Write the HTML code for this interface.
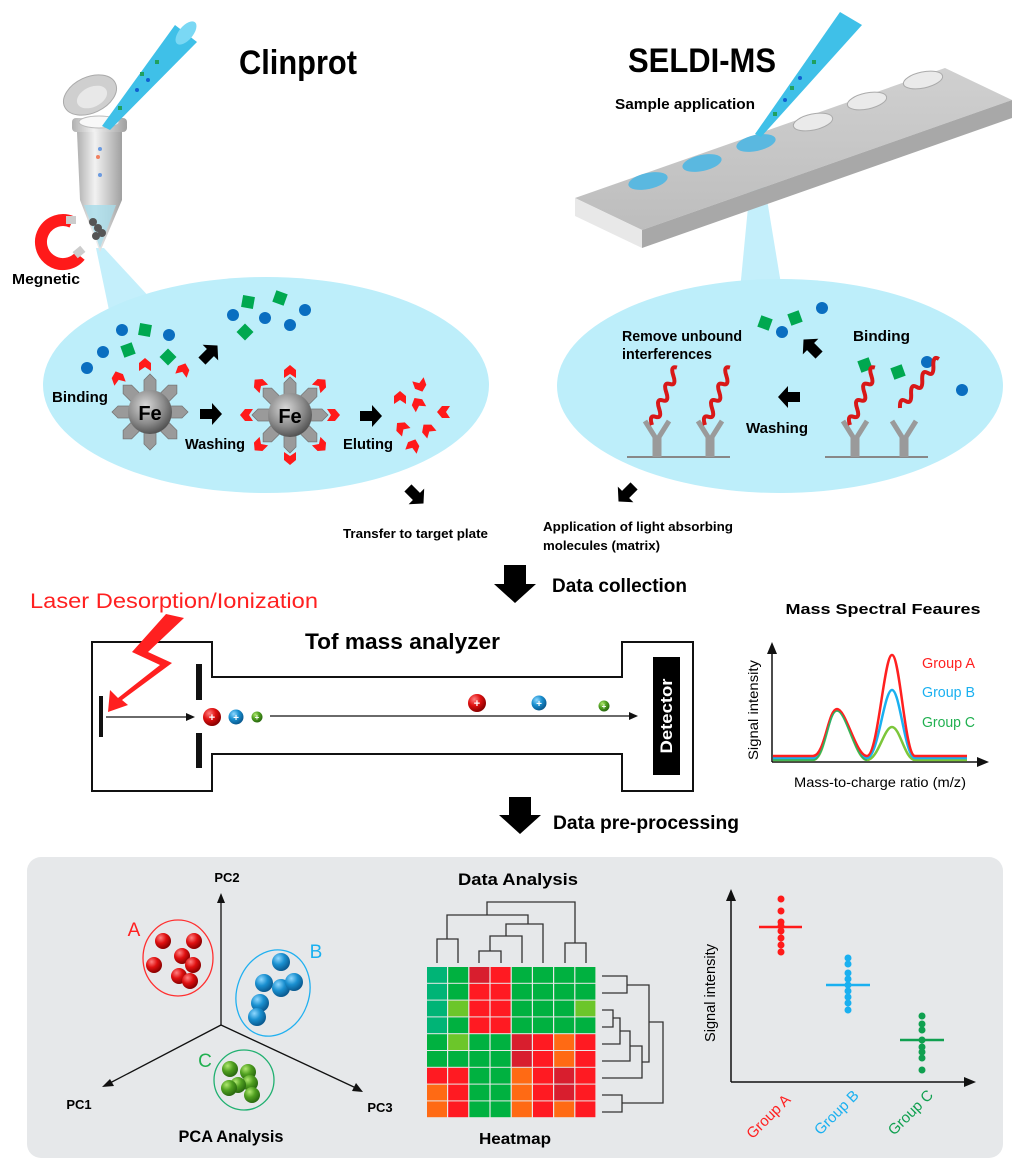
<!DOCTYPE html>
<html><head><meta charset="utf-8"><style>
html,body{margin:0;padding:0;background:#fff;}
svg{display:block;}
text{font-family:"Liberation Sans",sans-serif;}
.b{font-weight:bold;}
</style></head><body>
<svg width="1024" height="1167" viewBox="0 0 1024 1167" xmlns="http://www.w3.org/2000/svg">
<defs>
<radialGradient id="fe" cx="0.4" cy="0.35" r="0.7"><stop offset="0" stop-color="#d8d8d8"/><stop offset="0.6" stop-color="#8a8a8a"/><stop offset="1" stop-color="#4a4a4a"/></radialGradient>
<radialGradient id="rb" cx="0.35" cy="0.3" r="0.7"><stop offset="0" stop-color="#ff8080"/><stop offset="0.5" stop-color="#e01010"/><stop offset="1" stop-color="#8a0000"/></radialGradient>
<radialGradient id="bb" cx="0.35" cy="0.3" r="0.7"><stop offset="0" stop-color="#8fd8ff"/><stop offset="0.5" stop-color="#1a90d0"/><stop offset="1" stop-color="#0a5a90"/></radialGradient>
<radialGradient id="gb" cx="0.35" cy="0.3" r="0.7"><stop offset="0" stop-color="#b0e870"/><stop offset="0.5" stop-color="#50a020"/><stop offset="1" stop-color="#2a6a10"/></radialGradient>
<linearGradient id="tube" x1="0" x2="1"><stop offset="0" stop-color="#b0b0b0"/><stop offset="0.4" stop-color="#f2f2f2"/><stop offset="1" stop-color="#a0a0a0"/></linearGradient>
<linearGradient id="slide" x1="0" y1="0" x2="0" y2="1"><stop offset="0" stop-color="#d0d0d0"/><stop offset="1" stop-color="#bdbdbd"/></linearGradient>
<g id="spoke"><polygon points="-6,-16 6,-16 6,-32 0,-38 -6,-32" fill="#9a9a9a" stroke="#777" stroke-width="0.8"/></g>
<g id="chev"><polygon points="0,-7 6,-2 6,6 0,2 -6,6 -6,-2" fill="#ff1a1a"/></g>
<g id="sq"><rect x="-6" y="-6" width="12" height="12" fill="#00a850"/></g>
<g id="ab"><path d="M-2,0 V-20 L-12,-36 M2,0 V-20 L12,-36" fill="none" stroke="#9a9a9a" stroke-width="5"/></g>
<g id="helix"><path d="M0,0 q4,-10 8,-4 q4,6 8,-4 q4,-10 8,-4 q4,6 8,-4 q4,-10 8,-4 q4,6 8,-4 q4,-10 8,-4" fill="none" stroke="#d81818" stroke-width="4"/></g>
</defs>

<text x="298" y="74" class="b" font-size="34" text-anchor="middle" textLength="118" lengthAdjust="spacingAndGlyphs">Clinprot</text>
<text x="702" y="72" class="b" font-size="34" text-anchor="middle" textLength="148" lengthAdjust="spacingAndGlyphs">SELDI-MS</text>
<text x="685" y="109" class="b" font-size="15" text-anchor="middle" textLength="140" lengthAdjust="spacingAndGlyphs">Sample application</text>

<polygon points="96,248 104,248 152,300 110,315" fill="#c4effb"/>
<ellipse cx="266" cy="385" rx="223" ry="108" fill="#bdeefa"/>
<polygon points="754,145 758,145 782,290 740,290" fill="#c4effb"/>
<ellipse cx="780" cy="386" rx="223" ry="107" fill="#bdeefa"/>

<ellipse cx="90" cy="95" rx="28" ry="18" fill="#cfcfcf" stroke="#aaa" transform="rotate(-25 90 95)"/>
<ellipse cx="92" cy="97" rx="16" ry="10" fill="#e8e8e8" transform="rotate(-25 92 97)"/>
<rect x="72" y="118" width="55" height="14" rx="4" fill="url(#tube)"/>
<ellipse cx="99" cy="122" rx="20" ry="6" fill="#f8f8f8" stroke="#bbb"/>
<path d="M77,132 H122 V200 L100,252 L80,200 Z" fill="url(#tube)"/>
<path d="M84,205 H116 L100,248 Z" fill="#a8dcea" opacity="0.8"/>
<circle cx="93" cy="222" r="4" fill="#555"/><circle cx="98" cy="228" r="4" fill="#555"/><circle cx="102" cy="233" r="4" fill="#555"/><circle cx="96" cy="236" r="4" fill="#555"/>
<circle cx="100" cy="149" r="2" fill="#6a9ae0"/><circle cx="98" cy="157" r="2" fill="#f08060"/><circle cx="100" cy="175" r="2" fill="#6a9ae0"/>
<polygon points="102,126 110,130 197,42 175,25" fill="#3fc0e8"/>
<ellipse cx="186" cy="33" rx="14" ry="7" fill="#7ad8f4" transform="rotate(-50 186 33)"/>
<rect x="155" y="60" width="4" height="4" fill="#20a060"/><rect x="140" y="72" width="4" height="4" fill="#20a060"/><circle cx="148" cy="80" r="2" fill="#1060d0"/><circle cx="137" cy="90" r="2" fill="#1060d0"/><rect x="118" y="106" width="4" height="4" fill="#20a060"/>
<path d="M72,222 A22,22 0 1 0 80,256" fill="none" stroke="#ff1a1a" stroke-width="12"/>
<rect x="66" y="216" width="10" height="8" fill="#ccc"/><rect x="74" y="248" width="10" height="8" fill="#ccc" transform="rotate(-40 79 252)"/>
<text x="12" y="284" class="b" font-size="15" textLength="68" lengthAdjust="spacingAndGlyphs">Megnetic</text>

<polygon points="575,198 945,68 1012,100 642,230" fill="url(#slide)"/>
<polygon points="642,230 1012,100 1012,118 642,248" fill="#a8a8a8"/>
<polygon points="575,198 642,230 642,248 575,216" fill="#e8e8e8"/>
<ellipse cx="648" cy="181" rx="20" ry="8" fill="#5ab8e0" transform="rotate(-12 648 181)"/>
<ellipse cx="702" cy="163" rx="20" ry="8" fill="#5ab8e0" transform="rotate(-12 702 163)"/>
<ellipse cx="756" cy="143" rx="20" ry="8" fill="#5ab8e0" transform="rotate(-12 756 143)"/>
<ellipse cx="813" cy="122" rx="20" ry="8" fill="#eaeaea" stroke="#aaa" transform="rotate(-12 813 122)"/>
<ellipse cx="867" cy="101" rx="20" ry="8" fill="#eaeaea" stroke="#aaa" transform="rotate(-12 867 101)"/>
<ellipse cx="923" cy="80" rx="20" ry="8" fill="#eaeaea" stroke="#aaa" transform="rotate(-12 923 80)"/>
<polygon points="755,134 761,137 862,25 840,12" fill="#3fc0e8"/>
<rect x="812" y="60" width="4" height="4" fill="#20a060"/><circle cx="800" cy="78" r="2" fill="#1060d0"/><rect x="790" y="86" width="4" height="4" fill="#20a060"/><circle cx="785" cy="100" r="2" fill="#1060d0"/><rect x="773" y="112" width="4" height="4" fill="#20a060"/>

<circle cx="87" cy="368" r="6" fill="#0a6ec0"/><circle cx="103" cy="352" r="6" fill="#0a6ec0"/><circle cx="122" cy="330" r="6" fill="#0a6ec0"/><circle cx="169" cy="335" r="6" fill="#0a6ec0"/>
<use href="#sq" transform="translate(145,330) rotate(10)"/><use href="#sq" transform="translate(128,350) rotate(-20)"/><use href="#sq" transform="translate(168,357) rotate(45)"/>
<use href="#chev" transform="translate(118,378) rotate(-20)"/><use href="#chev" transform="translate(145,365)"/><use href="#chev" transform="translate(183,370) rotate(20)"/>
<circle cx="233" cy="315" r="6" fill="#0a6ec0"/><circle cx="265" cy="318" r="6" fill="#0a6ec0"/><circle cx="290" cy="325" r="6" fill="#0a6ec0"/><circle cx="305" cy="310" r="6" fill="#0a6ec0"/>
<use href="#sq" transform="translate(248,302) rotate(10)"/><use href="#sq" transform="translate(280,298) rotate(20)"/><use href="#sq" transform="translate(245,332) rotate(45)"/>
<g transform="translate(150,412)">
<use href="#spoke"/><use href="#spoke" transform="rotate(45)"/><use href="#spoke" transform="rotate(90)"/><use href="#spoke" transform="rotate(135)"/><use href="#spoke" transform="rotate(180)"/><use href="#spoke" transform="rotate(225)"/><use href="#spoke" transform="rotate(270)"/><use href="#spoke" transform="rotate(315)"/>
<circle r="22" fill="url(#fe)"/><text y="8" class="b" font-size="20" text-anchor="middle">Fe</text></g>
<g transform="translate(290,415)">
<g><use href="#spoke"/><use href="#chev" transform="translate(0,-43)"/></g>
<g transform="rotate(45)"><use href="#spoke"/><use href="#chev" transform="translate(0,-43)"/></g>
<g transform="rotate(90)"><use href="#spoke"/><use href="#chev" transform="translate(0,-43)"/></g>
<g transform="rotate(135)"><use href="#spoke"/><use href="#chev" transform="translate(0,-43)"/></g>
<g transform="rotate(180)"><use href="#spoke"/><use href="#chev" transform="translate(0,-43)"/></g>
<g transform="rotate(225)"><use href="#spoke"/><use href="#chev" transform="translate(0,-43)"/></g>
<g transform="rotate(270)"><use href="#spoke"/><use href="#chev" transform="translate(0,-43)"/></g>
<g transform="rotate(315)"><use href="#spoke"/><use href="#chev" transform="translate(0,-43)"/></g>
<circle r="22" fill="url(#fe)"/><text y="8" class="b" font-size="20" text-anchor="middle">Fe</text></g>
<use href="#chev" transform="translate(400,398) rotate(0)"/><use href="#chev" transform="translate(420,385) rotate(160)"/><use href="#chev" transform="translate(418,404) rotate(-30)"/><use href="#chev" transform="translate(444,412) rotate(-90)"/><use href="#chev" transform="translate(402,428) rotate(-45)"/><use href="#chev" transform="translate(428,430) rotate(-40)"/><use href="#chev" transform="translate(413,446) rotate(20)"/>
<text x="52" y="402" class="b" font-size="15" textLength="56" lengthAdjust="spacingAndGlyphs">Binding</text>
<text x="185" y="449" class="b" font-size="15" textLength="60" lengthAdjust="spacingAndGlyphs">Washing</text>
<text x="343" y="449" class="b" font-size="15" textLength="50" lengthAdjust="spacingAndGlyphs">Eluting</text>
<polygon points="200,409 212,409 212,403 222,414 212,425 212,419 200,419" fill="#000"/>
<polygon points="360,411 372,411 372,405 382,416 372,427 372,421 360,421" fill="#000"/>
<polygon points="-10,-5 2,-5 2,-11 12,0 2,11 2,5 -10,5" fill="#000" transform="translate(209,354) rotate(-45)"/>

<text x="622" y="341" class="b" font-size="15" textLength="120" lengthAdjust="spacingAndGlyphs">Remove unbound</text>
<text x="622" y="359" class="b" font-size="15" textLength="90" lengthAdjust="spacingAndGlyphs">interferences</text>
<text x="853" y="341" class="b" font-size="15" textLength="57" lengthAdjust="spacingAndGlyphs">Binding</text>
<text x="746" y="433" class="b" font-size="15" textLength="62" lengthAdjust="spacingAndGlyphs">Washing</text>
<use href="#sq" transform="translate(765,323) rotate(20)"/><use href="#sq" transform="translate(795,318) rotate(-20)"/>
<circle cx="782" cy="332" r="6" fill="#0a6ec0"/><circle cx="822" cy="308" r="6" fill="#0a6ec0"/>
<use href="#sq" transform="translate(865,365) rotate(-20)"/><use href="#sq" transform="translate(898,372) rotate(-20)"/>
<circle cx="927" cy="362" r="6" fill="#0a6ec0"/><circle cx="962" cy="390" r="6" fill="#0a6ec0"/>
<polygon points="-10,-5 2,-5 2,-11 12,0 2,11 2,5 -10,5" fill="#000" transform="translate(812,348) rotate(-135)"/>
<polygon points="-10,-5 2,-5 2,-11 12,0 2,11 2,5 -10,5" fill="#000" transform="translate(790,397) rotate(180)"/>
<line x1="627" y1="457" x2="730" y2="457" stroke="#888" stroke-width="2"/>
<line x1="825" y1="457" x2="928" y2="457" stroke="#888" stroke-width="2"/>
<use href="#ab" transform="translate(657,457)"/><use href="#ab" transform="translate(710,457)"/>
<use href="#ab" transform="translate(855,457)"/><use href="#ab" transform="translate(904,457)"/>
<use href="#helix" transform="translate(652,425) rotate(-40)"/><use href="#helix" transform="translate(705,425) rotate(-40)"/>
<use href="#helix" transform="translate(850,425) rotate(-40)"/><use href="#helix" transform="translate(900,408) rotate(-25)"/>

<polygon points="-10,-5 2,-5 2,-11 12,0 2,11 2,5 -10,5" fill="#000" transform="translate(415,495) rotate(45)"/>
<polygon points="-10,-5 2,-5 2,-11 12,0 2,11 2,5 -10,5" fill="#000" transform="translate(627,493) rotate(135)"/>
<text x="343" y="538" class="b" font-size="13" textLength="145" lengthAdjust="spacingAndGlyphs">Transfer to target plate</text>
<text x="543" y="531" class="b" font-size="13" textLength="190" lengthAdjust="spacingAndGlyphs">Application of light absorbing</text>
<text x="543" y="550" class="b" font-size="13" textLength="117" lengthAdjust="spacingAndGlyphs">molecules (matrix)</text>
<polygon points="504,565 526,565 526,584 536,584 515,603 494,584 504,584" fill="#000"/>
<text x="552" y="592" class="b" font-size="19" textLength="135" lengthAdjust="spacingAndGlyphs">Data collection</text>
<polygon points="509,797 531,797 531,815 541,815 520,834 499,815 509,815" fill="#000"/>
<text x="553" y="829" class="b" font-size="19" textLength="186" lengthAdjust="spacingAndGlyphs">Data pre-processing</text>

<text x="30" y="608" font-size="21" fill="#ff2020" textLength="288" lengthAdjust="spacingAndGlyphs">Laser Desorption/Ionization</text>
<path d="M212,677 V642 H92 V791 H212 V754 H622 V791 H693 V642 H622 V677 Z" fill="none" stroke="#111" stroke-width="2"/>
<text x="305" y="649" class="b" font-size="22" textLength="195" lengthAdjust="spacingAndGlyphs">Tof mass analyzer</text>
<rect x="196" y="664" width="6" height="36" fill="#111"/><rect x="196" y="733" width="6" height="35" fill="#111"/>
<rect x="99" y="696" width="4" height="41" fill="#111"/>
<line x1="106" y1="717" x2="192" y2="717" stroke="#111" stroke-width="1.2"/><polygon points="195,717 186,713 186,721" fill="#111"/>
<line x1="270" y1="716" x2="632" y2="716" stroke="#111" stroke-width="1.2"/><polygon points="638,716 629,712 629,720" fill="#111"/>
<polygon points="184,618 166,614 132,652 160,665 118,698 110,690 108,712 128,705 122,700 172,663 148,652" fill="#ff2020"/>
<circle cx="212" cy="717" r="9" fill="url(#rb)"/><text x="212" y="721" font-size="11" fill="#fff" text-anchor="middle" class="b">+</text>
<circle cx="236" cy="717" r="7.5" fill="url(#bb)"/><text x="236" y="721" font-size="10" fill="#fff" text-anchor="middle" class="b">+</text>
<circle cx="257" cy="717" r="5.5" fill="url(#gb)"/><text x="257" y="720" font-size="8" fill="#fff" text-anchor="middle" class="b">+</text>
<circle cx="477" cy="703" r="9" fill="url(#rb)"/><text x="477" y="707" font-size="11" fill="#fff" text-anchor="middle" class="b">+</text>
<circle cx="539" cy="703" r="7.5" fill="url(#bb)"/><text x="539" y="707" font-size="10" fill="#fff" text-anchor="middle" class="b">+</text>
<circle cx="604" cy="706" r="5.5" fill="url(#gb)"/><text x="604" y="709" font-size="8" fill="#fff" text-anchor="middle" class="b">+</text>
<rect x="653" y="657" width="27" height="118" fill="#000"/>
<text x="0" y="0" class="b" font-size="17" fill="#fff" text-anchor="middle" transform="translate(672,716) rotate(-90)" textLength="75" lengthAdjust="spacingAndGlyphs">Detector</text>

<text x="883" y="614" class="b" font-size="15" text-anchor="middle" textLength="195" lengthAdjust="spacingAndGlyphs">Mass Spectral Feaures</text>
<line x1="772" y1="762" x2="772" y2="650" stroke="#111" stroke-width="1.5"/><polygon points="772,642 767,654 777,654" fill="#111"/>
<line x1="772" y1="762" x2="980" y2="762" stroke="#111" stroke-width="1.5"/><polygon points="989,762 977,757 977,767" fill="#111"/>
<path d="M773,760 H813 C825,760 828,710 837,710 C846,710 856,760 867,760 C878,760 884,727 892,727 C900,727 905,760 915,760 H967" fill="none" stroke="#7cc63a" stroke-width="2.5"/>
<path d="M773,758 H813 C825,758 828,710 837,710 C846,710 856,758 867,758 C878,758 884,690 892,690 C900,690 905,758 915,758 H967" fill="none" stroke="#1ab0f0" stroke-width="2.5"/>
<path d="M773,756 H813 C825,756 828,709 837,709 C846,709 856,756 867,756 C878,756 884,655 892,655 C900,655 905,756 915,756 H967" fill="none" stroke="#ff2020" stroke-width="2.5"/>
<path d="M773,760 H813 C825,760 828,711 837,711 C846,711 856,760 867,760" fill="none" stroke="#30b060" stroke-width="1.5"/>
<text x="922" y="668" font-size="15" fill="#ff2020" textLength="53" lengthAdjust="spacingAndGlyphs">Group A</text>
<text x="922" y="697" font-size="15" fill="#1ab0f0" textLength="53" lengthAdjust="spacingAndGlyphs">Group B</text>
<text x="922" y="727" font-size="15" fill="#20b050" textLength="53" lengthAdjust="spacingAndGlyphs">Group C</text>
<text font-size="14" text-anchor="middle" transform="translate(758,710) rotate(-90)" textLength="100" lengthAdjust="spacingAndGlyphs">Signal intensity</text>
<text x="880" y="787" font-size="14" text-anchor="middle" textLength="172" lengthAdjust="spacingAndGlyphs">Mass-to-charge ratio (m/z)</text>

<rect x="27" y="857" width="976" height="301" rx="14" fill="#e6e8ea"/>
<line x1="221" y1="1025" x2="221" y2="900" stroke="#111" stroke-width="1.3"/><polygon points="221,893 217,903 225,903" fill="#111"/>
<line x1="221" y1="1025" x2="108" y2="1084" stroke="#111" stroke-width="1.3"/><polygon points="102,1087 110,1079 114,1086" fill="#111"/>
<line x1="221" y1="1025" x2="356" y2="1088" stroke="#111" stroke-width="1.3"/><polygon points="363,1092 352,1091 356,1083" fill="#111"/>
<text x="227" y="882" class="b" font-size="13" text-anchor="middle">PC2</text>
<text x="79" y="1109" class="b" font-size="13" text-anchor="middle">PC1</text>
<text x="380" y="1112" class="b" font-size="13" text-anchor="middle">PC3</text>
<text x="231" y="1142" class="b" font-size="17" text-anchor="middle" textLength="105" lengthAdjust="spacingAndGlyphs">PCA Analysis</text>
<ellipse cx="178" cy="958" rx="35" ry="38" fill="none" stroke="#ff3030" stroke-width="1.3"/>
<text x="134" y="936" font-size="19" fill="#ff2020" text-anchor="middle">A</text>
<circle cx="163" cy="941" r="8" fill="url(#rb)"/><circle cx="194" cy="941" r="8" fill="url(#rb)"/><circle cx="154" cy="965" r="8" fill="url(#rb)"/><circle cx="182" cy="956" r="8" fill="url(#rb)"/><circle cx="193" cy="965" r="8" fill="url(#rb)"/><circle cx="179" cy="976" r="8" fill="url(#rb)"/><circle cx="190" cy="981" r="8" fill="url(#rb)"/>
<ellipse cx="273" cy="993" rx="36" ry="44" fill="none" stroke="#20b0f0" stroke-width="1.3" transform="rotate(20 273 993)"/>
<text x="316" y="958" font-size="19" fill="#1ab0f0" text-anchor="middle">B</text>
<circle cx="281" cy="962" r="9" fill="url(#bb)"/><circle cx="264" cy="983" r="9" fill="url(#bb)"/><circle cx="281" cy="988" r="9" fill="url(#bb)"/><circle cx="294" cy="982" r="9" fill="url(#bb)"/><circle cx="260" cy="1003" r="9" fill="url(#bb)"/><circle cx="257" cy="1017" r="9" fill="url(#bb)"/>
<circle cx="244" cy="1080" r="30" fill="none" stroke="#20b070" stroke-width="1.3"/>
<text x="205" y="1067" font-size="19" fill="#20b050" text-anchor="middle">C</text>
<circle cx="230" cy="1069" r="8" fill="url(#gb)"/><circle cx="248" cy="1072" r="8" fill="url(#gb)"/><circle cx="250" cy="1083" r="8" fill="url(#gb)"/><circle cx="238" cy="1085" r="8" fill="url(#gb)"/><circle cx="229" cy="1088" r="8" fill="url(#gb)"/><circle cx="252" cy="1095" r="8" fill="url(#gb)"/>

<text x="518" y="885" class="b" font-size="17" text-anchor="middle" textLength="120" lengthAdjust="spacingAndGlyphs">Data Analysis</text>
<g fill="none" stroke="#333" stroke-width="1.3">
<path d="M437,963 V939 H458 V963"/>
<path d="M479,963 V951 H501 V963"/>
<path d="M490,951 V936 H522 V963"/>
<path d="M506,936 V924 H543 V963"/>
<path d="M447,939 V915 H528 V924"/>
<path d="M565,963 V943 H586 V943 V963"/>
<path d="M487,915 V902 H575 V943"/>
<path d="M602,976 H627 V993 H602"/>
<path d="M602,1010 H613 V1027 H602"/>
<path d="M613,1018 H620 V1044 H602"/>
<path d="M620,1031 H630 V1061 H602"/>
<path d="M630,1046 H642 V1078 H602"/>
<path d="M627,985 H649 V1062 H642"/>
<path d="M602,1095 H622 V1112 H602"/>
<path d="M649,1022 H663 V1103 H622"/>
</g>
<rect x="426" y="966" width="171" height="152" fill="#e8e8e8"/>
<g>
<rect x="427" y="967" width="20" height="15.8" fill="#00b476"/><rect x="448.2" y="967" width="20" height="15.8" fill="#00b140"/><rect x="469.4" y="967" width="20" height="15.8" fill="#d81e2e"/><rect x="490.6" y="967" width="20" height="15.8" fill="#ff1a22"/><rect x="511.8" y="967" width="20" height="15.8" fill="#00b140"/><rect x="533" y="967" width="20" height="15.8" fill="#00b140"/><rect x="554.2" y="967" width="20" height="15.8" fill="#00b140"/><rect x="575.4" y="967" width="20" height="15.8" fill="#00b140"/>
<rect x="427" y="983.8" width="20" height="15.8" fill="#00b476"/><rect x="448.2" y="983.8" width="20" height="15.8" fill="#00b140"/><rect x="469.4" y="983.8" width="20" height="15.8" fill="#ff1a22"/><rect x="490.6" y="983.8" width="20" height="15.8" fill="#ff1a22"/><rect x="511.8" y="983.8" width="20" height="15.8" fill="#00b140"/><rect x="533" y="983.8" width="20" height="15.8" fill="#00b140"/><rect x="554.2" y="983.8" width="20" height="15.8" fill="#00b140"/><rect x="575.4" y="983.8" width="20" height="15.8" fill="#00b140"/>
<rect x="427" y="1000.6" width="20" height="15.8" fill="#00b476"/><rect x="448.2" y="1000.6" width="20" height="15.8" fill="#6cc62a"/><rect x="469.4" y="1000.6" width="20" height="15.8" fill="#ff1a22"/><rect x="490.6" y="1000.6" width="20" height="15.8" fill="#ff1a22"/><rect x="511.8" y="1000.6" width="20" height="15.8" fill="#00b140"/><rect x="533" y="1000.6" width="20" height="15.8" fill="#00b140"/><rect x="554.2" y="1000.6" width="20" height="15.8" fill="#00b140"/><rect x="575.4" y="1000.6" width="20" height="15.8" fill="#6cc62a"/>
<rect x="427" y="1017.4" width="20" height="15.8" fill="#00b476"/><rect x="448.2" y="1017.4" width="20" height="15.8" fill="#00b140"/><rect x="469.4" y="1017.4" width="20" height="15.8" fill="#ff1a22"/><rect x="490.6" y="1017.4" width="20" height="15.8" fill="#ff1a22"/><rect x="511.8" y="1017.4" width="20" height="15.8" fill="#00b140"/><rect x="533" y="1017.4" width="20" height="15.8" fill="#00b140"/><rect x="554.2" y="1017.4" width="20" height="15.8" fill="#00b140"/><rect x="575.4" y="1017.4" width="20" height="15.8" fill="#00b140"/>
<rect x="427" y="1034.2" width="20" height="15.8" fill="#00b140"/><rect x="448.2" y="1034.2" width="20" height="15.8" fill="#6cc62a"/><rect x="469.4" y="1034.2" width="20" height="15.8" fill="#00b140"/><rect x="490.6" y="1034.2" width="20" height="15.8" fill="#00b140"/><rect x="511.8" y="1034.2" width="20" height="15.8" fill="#d81e2e"/><rect x="533" y="1034.2" width="20" height="15.8" fill="#ff1a22"/><rect x="554.2" y="1034.2" width="20" height="15.8" fill="#ff6a14"/><rect x="575.4" y="1034.2" width="20" height="15.8" fill="#ff1a22"/>
<rect x="427" y="1051" width="20" height="15.8" fill="#00b140"/><rect x="448.2" y="1051" width="20" height="15.8" fill="#00b140"/><rect x="469.4" y="1051" width="20" height="15.8" fill="#00b140"/><rect x="490.6" y="1051" width="20" height="15.8" fill="#00b140"/><rect x="511.8" y="1051" width="20" height="15.8" fill="#d81e2e"/><rect x="533" y="1051" width="20" height="15.8" fill="#ff1a22"/><rect x="554.2" y="1051" width="20" height="15.8" fill="#ff6a14"/><rect x="575.4" y="1051" width="20" height="15.8" fill="#ff1a22"/>
<rect x="427" y="1067.8" width="20" height="15.8" fill="#ff1a22"/><rect x="448.2" y="1067.8" width="20" height="15.8" fill="#ff1a22"/><rect x="469.4" y="1067.8" width="20" height="15.8" fill="#00b140"/><rect x="490.6" y="1067.8" width="20" height="15.8" fill="#00b140"/><rect x="511.8" y="1067.8" width="20" height="15.8" fill="#ff6a14"/><rect x="533" y="1067.8" width="20" height="15.8" fill="#ff1a22"/><rect x="554.2" y="1067.8" width="20" height="15.8" fill="#d81e2e"/><rect x="575.4" y="1067.8" width="20" height="15.8" fill="#ff1a22"/>
<rect x="427" y="1084.6" width="20" height="15.8" fill="#ff6a14"/><rect x="448.2" y="1084.6" width="20" height="15.8" fill="#ff1a22"/><rect x="469.4" y="1084.6" width="20" height="15.8" fill="#00b140"/><rect x="490.6" y="1084.6" width="20" height="15.8" fill="#00b140"/><rect x="511.8" y="1084.6" width="20" height="15.8" fill="#ff6a14"/><rect x="533" y="1084.6" width="20" height="15.8" fill="#ff1a22"/><rect x="554.2" y="1084.6" width="20" height="15.8" fill="#d81e2e"/><rect x="575.4" y="1084.6" width="20" height="15.8" fill="#ff1a22"/>
<rect x="427" y="1101.4" width="20" height="15.8" fill="#ff6a14"/><rect x="448.2" y="1101.4" width="20" height="15.8" fill="#ff1a22"/><rect x="469.4" y="1101.4" width="20" height="15.8" fill="#00b140"/><rect x="490.6" y="1101.4" width="20" height="15.8" fill="#00b140"/><rect x="511.8" y="1101.4" width="20" height="15.8" fill="#ff6a14"/><rect x="533" y="1101.4" width="20" height="15.8" fill="#ff1a22"/><rect x="554.2" y="1101.4" width="20" height="15.8" fill="#ff6a14"/><rect x="575.4" y="1101.4" width="20" height="15.8" fill="#ff1a22"/>
</g>
<text x="515" y="1144" class="b" font-size="16" text-anchor="middle" textLength="72" lengthAdjust="spacingAndGlyphs">Heatmap</text>

<line x1="731" y1="1082" x2="731" y2="898" stroke="#111" stroke-width="1.5"/><polygon points="731,889 726,901 736,901" fill="#111"/>
<line x1="731" y1="1082" x2="966" y2="1082" stroke="#111" stroke-width="1.5"/><polygon points="976,1082 964,1077 964,1087" fill="#111"/>
<text font-size="15" text-anchor="middle" transform="translate(715,993) rotate(-90)" textLength="98" lengthAdjust="spacingAndGlyphs">Signal intensity</text>
<g fill="#ff1a1a"><circle cx="781" cy="899" r="3.5"/><circle cx="781" cy="911" r="3.5"/><circle cx="781" cy="922" r="3.5"/><circle cx="781" cy="926" r="3.5"/><circle cx="781" cy="931" r="3.5"/><circle cx="781" cy="938" r="3.5"/><circle cx="781" cy="945" r="3.5"/><circle cx="781" cy="952" r="3.5"/></g>
<line x1="759" y1="927" x2="802" y2="927" stroke="#ff1a1a" stroke-width="2.5"/>
<g fill="#1ab0f0"><circle cx="848" cy="958" r="3.5"/><circle cx="848" cy="964" r="3.5"/><circle cx="848" cy="973" r="3.5"/><circle cx="848" cy="979" r="3.5"/><circle cx="848" cy="985" r="3.5"/><circle cx="848" cy="991" r="3.5"/><circle cx="848" cy="997" r="3.5"/><circle cx="848" cy="1003" r="3.5"/><circle cx="848" cy="1010" r="3.5"/></g>
<line x1="826" y1="985" x2="870" y2="985" stroke="#1ab0f0" stroke-width="2.5"/>
<g fill="#10a050"><circle cx="922" cy="1016" r="3.5"/><circle cx="922" cy="1024" r="3.5"/><circle cx="922" cy="1030" r="3.5"/><circle cx="922" cy="1040" r="3.5"/><circle cx="922" cy="1047" r="3.5"/><circle cx="922" cy="1052" r="3.5"/><circle cx="922" cy="1058" r="3.5"/><circle cx="922" cy="1070" r="3.5"/></g>
<line x1="900" y1="1040" x2="944" y2="1040" stroke="#10a050" stroke-width="2.5"/>
<text font-size="15" fill="#ff2020" text-anchor="middle" transform="translate(772,1120) rotate(-45)">Group A</text>
<text font-size="15" fill="#1ab0f0" text-anchor="middle" transform="translate(840,1116) rotate(-45)">Group B</text>
<text font-size="15" fill="#10a050" text-anchor="middle" transform="translate(914,1116) rotate(-45)">Group C</text>
</svg>
</body></html>
